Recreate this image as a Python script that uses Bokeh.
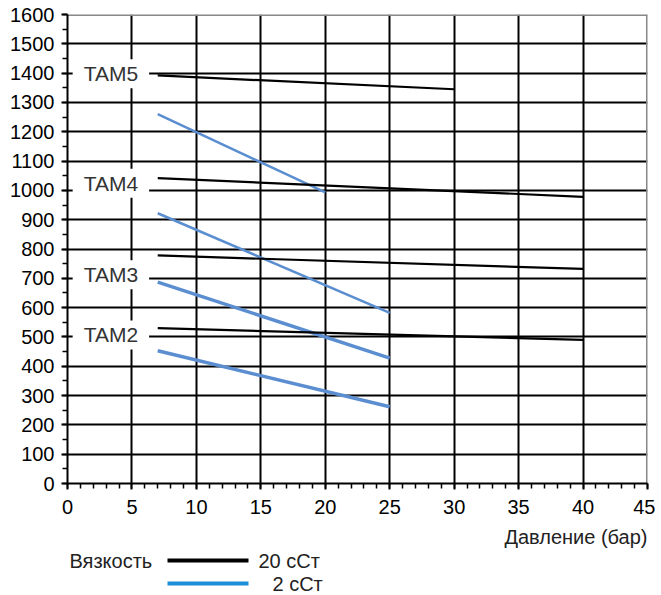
from bokeh.plotting import figure
from bokeh.models import Label, Range1d, FixedTicker
from bokeh.layouts import column
from bokeh.core.properties import value
from bokeh.embed import file_html
from bokeh.resources import INLINE

# ---- data ----
pressure_start = [7, 7, 7, 7]
series_names = ["TAM5", "TAM4", "TAM3", "TAM2"]
# 20 cSt (black)
black_x_end = [30, 40, 40, 40]
black_y_start = [1392, 1042, 778, 530]
black_y_end = [1345, 978, 732, 490]
# 2 cSt (blue)
blue_x_end = [20, 25, 25, 25]
blue_y_start = [1260, 922, 687, 453]
blue_y_end = [993, 582, 428, 262]
blue_widths = [2.5, 2.5, 3.5, 3.5]
label_y = [1398, 1024, 712, 507]
label_x = [0.4, 0.4, 0.4, 0.4]

x_ticks = list(range(0, 46, 5))
y_ticks = list(range(0, 1601, 100))
x_label = "Давление (бар)"
legend_title = "Вязкость"
legend_items = ["20  сСт", "2  сСт"]

FONT = "Liberation Sans"
BLUE = "#5b8ed0"
W = 655

p = figure(width=W, height=518, output_backend="svg", toolbar_location=None,
           x_range=Range1d(0, 45), y_range=Range1d(0, 1600),
           min_border_left=67, min_border_right=8, min_border_top=14, min_border_bottom=35)
p.outline_line_color = None
p.background_fill_color = "white"

for ax in (p.xaxis[0], p.yaxis[0]):
    ax.axis_line_color = "black"
    ax.axis_line_width = 2
    ax.major_tick_line_color = "black"
    ax.major_tick_line_width = 2
    ax.minor_tick_line_color = "black"
    ax.minor_tick_line_width = 1.5
    ax.major_tick_in = 0
    ax.major_tick_out = 6
    ax.minor_tick_in = 0
    ax.minor_tick_out = 5
    ax.major_label_text_font = FONT
    ax.major_label_text_font_size = "20px"
    ax.major_label_text_color = "black"

p.xaxis[0].ticker = FixedTicker(ticks=x_ticks, minor_ticks=list(range(0, 46)))
p.yaxis[0].ticker = FixedTicker(ticks=y_ticks, minor_ticks=list(range(0, 1601, 50)))
p.xaxis[0].major_label_standoff = 10
p.yaxis[0].major_label_standoff = 7

p.xgrid[0].ticker = FixedTicker(ticks=x_ticks)
p.ygrid[0].ticker = FixedTicker(ticks=y_ticks)
for g in (p.xgrid[0], p.ygrid[0]):
    g.grid_line_color = "black"
    g.grid_line_width = 2

# top / right borders
p.line([0, 45], [1600, 1600], line_color="#888888", line_width=3)
p.line([45, 45], [0, 1600], line_color="#888888", line_width=3)

for i in range(4):
    p.line([pressure_start[i], black_x_end[i]], [black_y_start[i], black_y_end[i]],
           line_color="black", line_width=2.2)
    p.line([pressure_start[i], blue_x_end[i]], [blue_y_start[i], blue_y_end[i]],
           line_color=BLUE, line_width=blue_widths[i])

for i, name in enumerate(series_names):
    p.add_layout(Label(x=label_x[i], y=label_y[i], text=name, text_font=FONT,
                       text_font_size="21px", text_color="#333333",
                       text_baseline="middle", text_align="left",
                       background_fill_color="white", border_line_color=None,
                       padding=dict(left=11, right=11, top=3, bottom=3)))

# legend / axis title figure (pixel coordinates of the page)
lg = figure(width=W, height=77, output_backend="svg", toolbar_location=None,
            x_range=Range1d(67, 647), y_range=Range1d(595, 518),
            x_axis_type=None, y_axis_type=None,
            min_border_left=67, min_border_right=8, min_border_top=0, min_border_bottom=0)
lg.grid.visible = False
lg.outline_line_color = None
lg.text(x=[647], y=[536], text=[x_label], text_font=value(FONT), text_font_size="20px",
        text_baseline="middle", text_align="right", text_color="#222222")
lg.line([167, 248], [560, 560], line_color="black", line_width=4)
lg.line([167, 248], [583, 583], line_color="#1a90d8", line_width=4)
lg.text(x=[69], y=[560], text=[legend_title], text_font=value(FONT), text_font_size="20px",
        text_baseline="middle", text_align="left", text_color="#222222")
lg.text(x=[258, 272], y=[560, 583], text=legend_items, text_font=value(FONT), text_font_size="20px",
        text_baseline="middle", text_align="left", text_color="#222222")

layout = column(p, lg, spacing=0)
open("out.html", "w").write(file_html(layout, INLINE))
